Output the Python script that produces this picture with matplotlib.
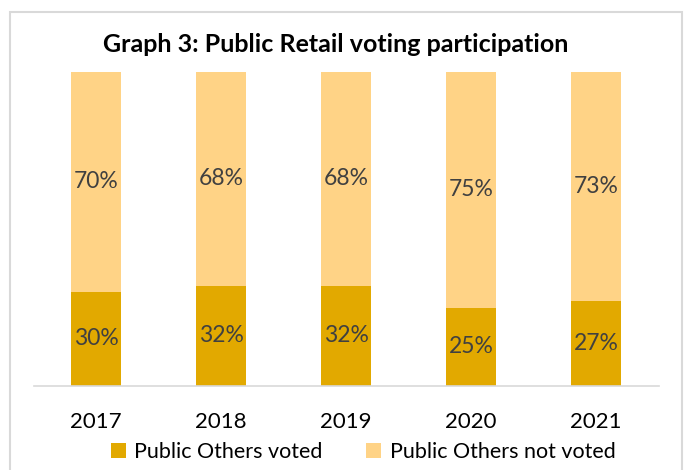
import matplotlib
matplotlib.use("Agg")
import matplotlib.pyplot as plt
from matplotlib.patches import Rectangle

years = ["2017", "2018", "2019", "2020", "2021"]
voted = [30, 32, 32, 25, 27]
not_voted = [70, 68, 68, 75, 73]
series_names = ["Public Others voted", "Public Others not voted"]
title = "Graph 3: Public Retail voting participation"

dark = "#E2A900"
light = "#FFD386"
txt = "#404040"

plt.rcParams['font.family'] = ['Lato', 'DejaVu Sans']

fig = plt.figure(figsize=(6.86, 4.70), dpi=100)
fig.patches.append(Rectangle((10/686, -0.05), 672/686, (470-12)/470 + 0.05,
                             transform=fig.transFigure, fill=False,
                             edgecolor="#D9D9D9", linewidth=1.5))
ax = fig.add_axes([33.5/686, (470-386)/470, 625/686, 314/470])

x = list(range(len(years)))
v = [a/100 for a in voted]
n = [a/100 for a in not_voted]
b1 = ax.bar(x, v, width=0.4, color=dark, label=series_names[0])
b2 = ax.bar(x, n, width=0.4, bottom=v, color=light, label=series_names[1])
for i in x:
    ax.text(i, v[i]/2, f"{voted[i]}%", ha="center", va="center", fontsize=16.5, color=txt)
    ax.text(i, v[i] + n[i]/2, f"{not_voted[i]}%", ha="center", va="center", fontsize=16.5, color=txt)

ax.set_xlim(-0.5, 4.5)
ax.set_ylim(0, 1)
ax.set_xticks(x)
ax.set_xticklabels(years, fontsize=16, color="black")
ax.tick_params(axis="x", length=0, pad=19)
ax.set_yticks([])
for s in ["top", "right", "left"]:
    ax.spines[s].set_visible(False)
ax.spines["bottom"].set_color("#D9D9D9")
ax.spines["bottom"].set_linewidth(1.2)

fig.text(336/686, 1 - 45/470, title, ha="center", va="center", fontsize=18, fontweight="bold", color="black")

leg = fig.legend(handles=[b1, b2], labels=series_names, loc="center", bbox_to_anchor=(363/686, 1 - 452/470),
                 ncol=2, frameon=False, fontsize=15.5, handlelength=0.7, handleheight=0.7,
                 handletextpad=0.4, columnspacing=2.0)

fig.savefig("out.png", dpi=100)
